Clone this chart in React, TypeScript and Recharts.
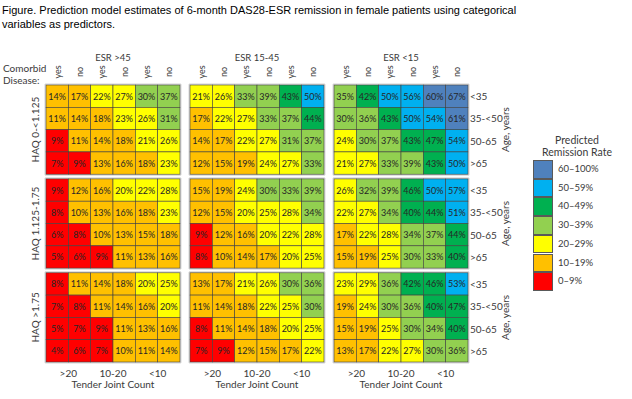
import React from "react";
import { ScatterChart, Scatter, XAxis, YAxis, ReferenceArea } from "recharts";

const esrGroups = ["ESR >45", "ESR 15-45", "ESR <15"];
const tjcGroups = [">20", "10-20", "<10"];
const comorbid = ["yes", "no"];
const haqGroups = ["HAQ 0-<1.125", "HAQ 1.125-1.75", "HAQ >1.75"];
const ageGroups = ["<35", "35-<50", "50-65", ">65"];

// rows = age groups; columns = ESR >45 | ESR 15-45 | ESR <15, each: >20 yes/no, 10-20 yes/no, <10 yes/no
const haqLow = [
  [14, 17, 22, 27, 30, 37, 21, 26, 33, 39, 43, 50, 35, 42, 50, 56, 60, 67],
  [11, 14, 18, 23, 26, 31, 17, 22, 27, 33, 37, 44, 30, 36, 43, 50, 54, 61],
  [9, 11, 14, 18, 21, 26, 14, 17, 22, 27, 31, 37, 24, 30, 37, 43, 47, 54],
  [7, 9, 13, 16, 18, 23, 12, 15, 19, 24, 27, 33, 21, 27, 33, 39, 43, 50],
];
const haqMid = [
  [9, 12, 16, 20, 22, 28, 15, 19, 24, 30, 33, 39, 26, 32, 39, 46, 50, 57],
  [8, 10, 13, 16, 18, 23, 12, 15, 20, 25, 28, 34, 22, 27, 34, 40, 44, 51],
  [6, 8, 10, 13, 15, 18, 9, 12, 16, 20, 22, 28, 17, 22, 28, 34, 37, 44],
  [5, 6, 9, 11, 13, 16, 8, 10, 14, 17, 20, 25, 15, 19, 25, 30, 33, 40],
];
const haqHigh = [
  [8, 11, 14, 18, 20, 25, 13, 17, 21, 26, 30, 36, 23, 29, 36, 42, 46, 53],
  [7, 8, 11, 14, 16, 20, 11, 14, 18, 22, 25, 30, 19, 24, 30, 36, 40, 47],
  [5, 7, 9, 11, 13, 16, 8, 11, 14, 18, 20, 25, 15, 19, 25, 30, 34, 40],
  [4, 6, 7, 10, 11, 14, 7, 9, 12, 15, 17, 22, 13, 17, 22, 27, 30, 36],
];

const binLabels = ["60–100%", "50–59%", "40–49%", "30–39%", "20–29%", "10–19%", "0–9%"];
const binMins = [60, 50, 40, 30, 20, 10, 0];
const binColors = ["#4F81BD", "#00B0F0", "#00B050", "#92D050", "#FFFF00", "#FFC000", "#FF0000"];

const W = 632;
const H = 399;
const PLOT_L = 46;
const PLOT_T = 85;
const PLOT_W = 422;
const PLOT_H = 277;
const GAP_X = 0.45;
const GAP_Y = 0.21;
const X_SPAN = 18 + 2 * GAP_X;
const Y_SPAN = 12 + 2 * GAP_Y;
const CELL_W = PLOT_W / X_SPAN;
const CELL_H = PLOT_H / Y_SPAN;
const TOP_AX = 45;
const BOT_AX = 32;
const LEFT_AX = 30;
const RIGHT_AX = 62;

const FONT = "Lato, 'Open Sans', sans-serif";
const TXT = "#3a3a3a";

const colX = (c: number) => c + 0.5 + Math.floor(c / 6) * GAP_X;
const rowY = (r: number) => r + 0.5 + Math.floor(r / 4) * GAP_Y;
const key = (v: number) => v.toFixed(3);

const binColor = (v: number) => binColors[binMins.findIndex((m) => v >= m)];

const bands = [haqLow, haqMid, haqHigh];
const points = bands.flatMap((band, g) =>
  band.flatMap((row, a) => row.map((v, c) => ({ x: colX(c), y: rowY(g * 4 + a), v })))
);

// top axis: yes/no per column, ESR group per panel
const topTicks: number[] = [];
const topInfo = new Map<string, { label: string; group: boolean }>();
for (let c = 0; c < 18; c++) {
  topTicks.push(colX(c));
  topInfo.set(key(colX(c)), { label: comorbid[c % 2], group: false });
}
esrGroups.forEach((label, p) => {
  const v = p * (6 + GAP_X) + 3;
  topTicks.push(v);
  topInfo.set(key(v), { label, group: true });
});

// bottom axis: tender joint count per pair
const bottomTicks: number[] = [];
const bottomInfo = new Map<string, { label: string; mid: boolean }>();
esrGroups.forEach((_, p) => {
  tjcGroups.forEach((label, k) => {
    const v = p * (6 + GAP_X) + 2 * k + 1;
    bottomTicks.push(v);
    bottomInfo.set(key(v), { label, mid: k === 1 });
  });
});

const leftTicks = haqGroups.map((_, g) => g * (4 + GAP_Y) + 2);

const rightTicks: number[] = [];
const rightInfo = new Map<string, { label: string; group: boolean }>();
for (let r = 0; r < 12; r++) {
  rightTicks.push(rowY(r));
  rightInfo.set(key(rowY(r)), { label: ageGroups[r % 4], group: false });
}
haqGroups.forEach((_, g) => {
  const v = g * (4 + GAP_Y) + 2;
  rightTicks.push(v);
  rightInfo.set(key(v), { label: "Age, years", group: true });
});

const HeatCell = (props: any) => {
  const { cx, cy } = props;
  const v = props.payload ? props.payload.v : props.v;
  return (
    <g>
      <rect
        x={cx - CELL_W / 2}
        y={cy - CELL_H / 2}
        width={CELL_W}
        height={CELL_H}
        fill={binColor(v)}
        stroke="#404040"
        strokeWidth={0.6}
      />
      <text x={cx} y={cy} textAnchor="middle" dominantBaseline="central" fontSize={9} fontFamily={FONT} fill="#262626">
        {v}%
      </text>
    </g>
  );
};

const TopTick = (props: any) => {
  const { x, payload } = props;
  const t = topInfo.get(key(payload.value));
  if (!t) return null;
  if (t.group) {
    return (
      <text x={x} y={PLOT_T - 28} textAnchor="middle" dominantBaseline="central" fontSize={9.5} fontFamily={FONT} fill={TXT}>
        {t.label}
      </text>
    );
  }
  return (
    <text
      transform={`translate(${x},${PLOT_T - 13}) rotate(-90)`}
      textAnchor="middle"
      dominantBaseline="central"
      fontSize={9}
      fontFamily={FONT}
      fill={TXT}
    >
      {t.label}
    </text>
  );
};

const BottomTick = (props: any) => {
  const { x, payload } = props;
  const t = bottomInfo.get(key(payload.value));
  if (!t) return null;
  return (
    <g>
      <text x={x} y={PLOT_T + PLOT_H + 11} textAnchor="middle" dominantBaseline="central" fontSize={10} fontFamily={FONT} fill={TXT}>
        {t.label}
      </text>
      {t.mid && (
        <text x={x} y={PLOT_T + PLOT_H + 22} textAnchor="middle" dominantBaseline="central" fontSize={10} fontFamily={FONT} fill={TXT}>
          Tender Joint Count
        </text>
      )}
    </g>
  );
};

const LeftTick = (props: any) => {
  const { y, index } = props;
  return (
    <text
      transform={`translate(35,${y}) rotate(-90)`}
      textAnchor="middle"
      dominantBaseline="central"
      fontSize={10}
      fontFamily={FONT}
      fill={TXT}
    >
      {haqGroups[index]}
    </text>
  );
};

const RightTick = (props: any) => {
  const { y, payload } = props;
  const t = rightInfo.get(key(payload.value));
  if (!t) return null;
  if (t.group) {
    return (
      <text
        transform={`translate(505,${y}) rotate(-90)`}
        textAnchor="middle"
        dominantBaseline="central"
        fontSize={10}
        fontFamily={FONT}
        fill={TXT}
      >
        {t.label}
      </text>
    );
  }
  return (
    <text x={470} y={y} textAnchor="start" dominantBaseline="central" fontSize={10} fontFamily={FONT} fill={TXT}>
      {t.label}
    </text>
  );
};

export default function App() {
  return (
    <div style={{ position: "absolute", left: 0, top: 0, width: W, height: H, background: "#fff" }}>
      <div
        style={{
          position: "absolute",
          left: 2,
          top: 3,
          fontFamily: "'Liberation Sans', Arial, sans-serif",
          fontSize: 11,
          lineHeight: "14px",
          color: "#000",
          width: 600,
        }}
      >
        Figure. Prediction model estimates of 6-month DAS28-ESR remission in female patients using categorical
        <br />
        variables as predictors.
      </div>
      <div style={{ position: "absolute", left: 3, top: 62, fontFamily: FONT, fontSize: 10, lineHeight: "12px", color: TXT }}>
        Comorbid
        <br />
        Disease:
      </div>

      <ScatterChart
        width={W}
        height={H}
        margin={{
          top: PLOT_T - TOP_AX,
          bottom: H - PLOT_T - PLOT_H - BOT_AX,
          left: PLOT_L - LEFT_AX,
          right: W - PLOT_L - PLOT_W - RIGHT_AX,
        }}
      >
        <XAxis
          xAxisId="b"
          type="number"
          dataKey="x"
          domain={[0, X_SPAN]}
          ticks={bottomTicks}
          interval={0}
          orientation="bottom"
          height={BOT_AX}
          axisLine={false}
          tickLine={false}
          tick={<BottomTick />}
        />
        <XAxis
          xAxisId="t"
          type="number"
          dataKey="x"
          domain={[0, X_SPAN]}
          ticks={topTicks}
          interval={0}
          orientation="top"
          height={TOP_AX}
          axisLine={false}
          tickLine={false}
          tick={<TopTick />}
        />
        <YAxis
          yAxisId="l"
          type="number"
          dataKey="y"
          domain={[0, Y_SPAN]}
          reversed
          ticks={leftTicks}
          interval={0}
          width={LEFT_AX}
          axisLine={false}
          tickLine={false}
          tick={<LeftTick />}
        />
        <YAxis
          yAxisId="r"
          type="number"
          dataKey="y"
          domain={[0, Y_SPAN]}
          reversed
          orientation="right"
          ticks={rightTicks}
          interval={0}
          width={RIGHT_AX}
          axisLine={false}
          tickLine={false}
          tick={<RightTick />}
        />
        {esrGroups.map((_, p) =>
          haqGroups.map((__, g) => (
            <ReferenceArea
              key={`${p}-${g}`}
              xAxisId="b"
              yAxisId="l"
              x1={p * (6 + GAP_X) - 0.04}
              x2={p * (6 + GAP_X) + 6 + 0.04}
              y1={g * (4 + GAP_Y) - 0.04}
              y2={g * (4 + GAP_Y) + 4 + 0.04}
              fill="none"
              fillOpacity={0}
              stroke="#C4C4C4"
              strokeWidth={0.9}
              ifOverflow="visible"
            />
          ))
        )}
        <Scatter data={points} xAxisId="b" yAxisId="l" shape={<HeatCell />} isAnimationActive={false} />
        <Scatter data={points} xAxisId="t" yAxisId="r" shape={() => <g />} isAnimationActive={false} />
      </ScatterChart>

      <div style={{ position: "absolute", left: 577, top: 134, transform: "translateX(-50%)", textAlign: "center", fontFamily: FONT, fontSize: 10.5, lineHeight: "12px", color: TXT, whiteSpace: "nowrap" }}>
        Predicted
        <br />
        Remission Rate
      </div>
      {binLabels.map((label, i) => (
        <div key={label}>
          <div
            style={{
              position: "absolute",
              left: 533,
              top: 160 + i * 18.7,
              width: 20,
              height: 18.7,
              boxSizing: "border-box",
              background: binColors[i],
              border: "0.7px solid #595959",
            }}
          />
          <div style={{ position: "absolute", left: 558, top: 160 + i * 18.7 + 3, fontFamily: FONT, fontSize: 9.5, lineHeight: "12px", color: TXT }}>
            {label}
          </div>
        </div>
      ))}
    </div>
  );
}
